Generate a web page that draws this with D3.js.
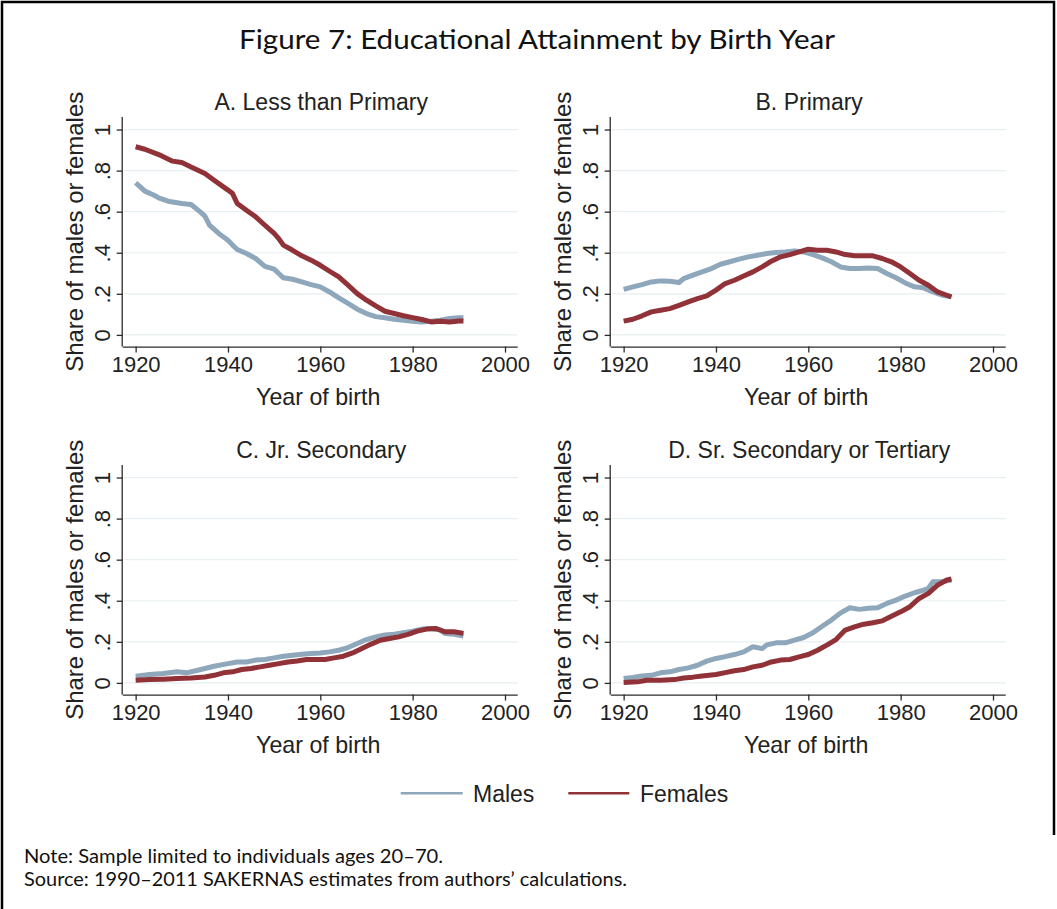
<!DOCTYPE html>
<html>
<head>
<meta charset="utf-8">
<script src="https://cdn.jsdelivr.net/npm/d3@7"></script>
<style>
  html, body { margin: 0; padding: 0; background: #fff; }
  svg { display: block; }
</style>
</head>
<body>
<svg id="chart" width="1057" height="909"></svg>
<script>
// ---------------- DATA ----------------
const figureTitle = "Figure 7: Educational Attainment by Birth Year";
const panelTitles = ["A. Less than Primary", "B. Primary", "C. Jr. Secondary", "D. Sr. Secondary or Tertiary"];
const seriesNames = ["Males", "Females"];
const xTicks = [1920, 1940, 1960, 1980, 2000];
const yTicks = [0, 0.2, 0.4, 0.6, 0.8, 1];
const yTickLabels = ["0", ".2", ".4", ".6", ".8", "1"];
const xTitle = "Year of birth";
const yTitle = "Share of males or females";
const notes = ["Note: Sample limited to individuals ages 20\u201370.",
               "Source: 1990\u20132011 SAKERNAS estimates from authors\u2019 calculations."];

// [birth year, share]
const lessPrimaryMales = [[1920,0.740],[1921,0.721],[1922,0.700],[1924,0.680],[1925,0.667],[1927,0.651],[1930,0.640],[1932,0.635],[1934,0.599],[1935,0.578],[1936,0.534],[1938,0.494],[1940,0.461],[1941,0.437],[1942,0.416],[1944,0.396],[1946,0.372],[1948,0.334],[1950,0.320],[1951,0.299],[1952,0.278],[1954,0.271],[1956,0.258],[1958,0.245],[1960,0.234],[1962,0.209],[1964,0.180],[1966,0.153],[1968,0.125],[1970,0.104],[1972,0.089],[1974,0.083],[1976,0.076],[1978,0.071],[1980,0.067],[1982,0.063],[1984,0.067],[1986,0.071],[1988,0.080],[1990,0.084],[1991,0.084]];
const lessPrimaryFemales = [[1920,0.916],[1922,0.904],[1925,0.878],[1928,0.846],[1930,0.839],[1932,0.818],[1935,0.786],[1937,0.753],[1940,0.705],[1941,0.688],[1942,0.640],[1944,0.607],[1946,0.575],[1948,0.534],[1950,0.494],[1951,0.469],[1952,0.437],[1954,0.412],[1956,0.385],[1958,0.364],[1960,0.339],[1962,0.310],[1964,0.282],[1966,0.242],[1968,0.201],[1970,0.169],[1972,0.141],[1974,0.115],[1976,0.104],[1978,0.093],[1980,0.084],[1982,0.075],[1984,0.063],[1986,0.067],[1988,0.063],[1990,0.068],[1991,0.068]];
const primaryMales = [[1920,0.222],[1922,0.234],[1924,0.245],[1926,0.258],[1928,0.263],[1930,0.261],[1932,0.255],[1933,0.274],[1935,0.291],[1937,0.307],[1939,0.323],[1941,0.344],[1943,0.356],[1945,0.369],[1947,0.380],[1949,0.388],[1951,0.396],[1953,0.401],[1955,0.404],[1957,0.409],[1959,0.404],[1961,0.391],[1963,0.375],[1965,0.356],[1967,0.331],[1969,0.323],[1971,0.323],[1973,0.326],[1975,0.323],[1977,0.299],[1979,0.278],[1981,0.253],[1983,0.234],[1985,0.229],[1987,0.209],[1989,0.193],[1991,0.185]];
const primaryFemales = [[1920,0.067],[1922,0.076],[1924,0.093],[1926,0.112],[1928,0.120],[1930,0.128],[1932,0.144],[1934,0.161],[1936,0.177],[1938,0.190],[1940,0.218],[1942,0.250],[1944,0.266],[1946,0.287],[1948,0.307],[1950,0.331],[1952,0.359],[1954,0.380],[1956,0.391],[1958,0.404],[1960,0.417],[1962,0.412],[1964,0.412],[1966,0.404],[1968,0.391],[1970,0.385],[1972,0.385],[1974,0.385],[1976,0.372],[1978,0.356],[1980,0.331],[1982,0.299],[1984,0.266],[1986,0.242],[1988,0.209],[1990,0.193],[1991,0.185]];
const jrSecondaryMales = [[1920,0.033],[1923,0.041],[1926,0.046],[1929,0.054],[1931,0.049],[1933,0.059],[1935,0.070],[1937,0.081],[1940,0.094],[1942,0.102],[1944,0.102],[1946,0.111],[1948,0.114],[1950,0.122],[1952,0.130],[1954,0.135],[1956,0.140],[1958,0.143],[1960,0.146],[1962,0.151],[1964,0.159],[1966,0.172],[1968,0.192],[1970,0.211],[1972,0.224],[1974,0.233],[1976,0.237],[1978,0.244],[1980,0.252],[1982,0.262],[1984,0.265],[1986,0.257],[1987,0.241],[1989,0.237],[1991,0.228]];
const jrSecondaryFemales = [[1920,0.013],[1923,0.016],[1926,0.018],[1929,0.021],[1932,0.024],[1935,0.029],[1937,0.037],[1939,0.049],[1941,0.054],[1943,0.065],[1945,0.070],[1947,0.078],[1949,0.086],[1951,0.094],[1953,0.102],[1955,0.107],[1957,0.114],[1959,0.114],[1961,0.114],[1963,0.122],[1965,0.130],[1967,0.146],[1969,0.167],[1971,0.189],[1973,0.208],[1975,0.216],[1977,0.224],[1979,0.236],[1981,0.252],[1983,0.262],[1985,0.265],[1987,0.249],[1989,0.249],[1991,0.241]];
const srSecondaryMales = [[1920,0.021],[1922,0.026],[1924,0.034],[1926,0.037],[1928,0.049],[1930,0.054],[1932,0.065],[1934,0.073],[1936,0.086],[1938,0.106],[1940,0.119],[1942,0.128],[1944,0.138],[1946,0.151],[1948,0.176],[1950,0.167],[1951,0.185],[1953,0.195],[1955,0.195],[1957,0.208],[1959,0.221],[1961,0.244],[1963,0.276],[1965,0.306],[1967,0.341],[1969,0.366],[1971,0.358],[1973,0.363],[1975,0.366],[1977,0.387],[1979,0.403],[1981,0.423],[1983,0.439],[1985,0.452],[1986,0.460],[1987,0.493],[1989,0.493],[1991,0.501]];
const srSecondaryFemales = [[1920,0.002],[1923,0.005],[1925,0.013],[1928,0.013],[1931,0.016],[1933,0.024],[1935,0.028],[1937,0.034],[1940,0.041],[1942,0.050],[1944,0.059],[1946,0.065],[1948,0.078],[1950,0.086],[1952,0.102],[1954,0.111],[1956,0.114],[1958,0.127],[1960,0.138],[1962,0.159],[1964,0.184],[1966,0.211],[1968,0.257],[1970,0.273],[1972,0.286],[1974,0.293],[1976,0.302],[1978,0.325],[1980,0.346],[1982,0.371],[1984,0.411],[1986,0.436],[1988,0.476],[1990,0.501],[1991,0.506]];

const panelMales = [lessPrimaryMales, primaryMales, jrSecondaryMales, srSecondaryMales];
const panelFemales = [lessPrimaryFemales, primaryFemales, jrSecondaryFemales, srSecondaryFemales];

// ---------------- STYLE / LAYOUT ----------------
const maleColor = "#8ea7bb";
const femaleColor = "#913238";
const gridColor = "#e7eff2";
const axisColor = "#2b2b2b";
const sansFont = "'Liberation Sans', Arial, Helvetica, sans-serif";
const titleFont = "Lato, 'Open Sans', sans-serif";

const plotLefts = [122.7, 610.7];
const plotTops = [117, 465];
const plotW = 395;
const plotH = 229.6;
const xDomain = [1917.2, 2002.75];
const yDomain = [-0.057, 1.061];

const svg = d3.select("#chart");

// outer frame
svg.append("path")
  .attr("d", "M2,909 L2,2 L1054,2 L1054,835")
  .attr("fill", "none").attr("stroke", "#000").attr("stroke-width", 2.5);

// figure title
svg.append("text")
  .attr("x", 239).attr("y", 49)
  .attr("textLength", 596).attr("lengthAdjust", "spacingAndGlyphs")
  .attr("font-family", titleFont).attr("font-size", 27.5).attr("fill", "#111")
  .text(figureTitle);

panelTitles.forEach((pt, i) => {
  const left = plotLefts[i % 2];
  const top = plotTops[Math.floor(i / 2)];
  const x = d3.scaleLinear().domain(xDomain).range([left, left + plotW]);
  const y = d3.scaleLinear().domain(yDomain).range([top + plotH, top]);
  const g = svg.append("g");

  // gridlines
  g.selectAll(".grid").data(yTicks).join("line")
    .attr("x1", left + 1).attr("x2", left + plotW)
    .attr("y1", d => y(d)).attr("y2", d => y(d))
    .attr("stroke", gridColor).attr("stroke-width", 1.2);

  // x axis
  const xAxis = d3.axisBottom(x).tickValues(xTicks).tickFormat(d3.format("d")).tickSize(6).tickSizeOuter(0);
  const xg = g.append("g").attr("transform", `translate(0,${top + plotH})`).call(xAxis);
  xg.select(".domain").attr("stroke", axisColor).attr("stroke-width", 1.3)
    .attr("d", `M${left},0.5H${left + plotW}`);
  xg.selectAll(".tick line").attr("stroke", axisColor).attr("stroke-width", 1.3);
  xg.selectAll(".tick text").attr("font-family", sansFont).attr("font-size", 22)
    .attr("fill", "#222").attr("dy", null).attr("y", 25.5);

  // y axis
  const yAxis = d3.axisLeft(y).tickValues(yTicks).tickFormat((d, k) => yTickLabels[k]).tickSize(6).tickSizeOuter(0);
  const yg = g.append("g").attr("transform", `translate(${left},0)`).call(yAxis);
  yg.select(".domain").attr("stroke", axisColor).attr("stroke-width", 1.3)
    .attr("d", `M-0.5,${top}V${top + plotH}`);
  yg.selectAll(".tick line").attr("stroke", axisColor).attr("stroke-width", 1.3);
  yg.selectAll(".tick text").attr("font-family", sansFont).attr("font-size", 22)
    .attr("fill", "#222").attr("x", null).attr("dy", null)
    .attr("text-anchor", "middle")
    .attr("transform", "translate(-12.5,0) rotate(-90)");

  // axis titles
  g.append("text")
    .attr("x", left + plotW / 2 - 2).attr("y", top + plotH + 58.5)
    .attr("text-anchor", "middle").attr("font-family", sansFont).attr("font-size", 23.2).attr("fill", "#222")
    .text(xTitle);
  g.append("text")
    .attr("transform", `translate(${left - 39.5},${top + plotH / 2}) rotate(-90)`)
    .attr("text-anchor", "middle").attr("font-family", sansFont).attr("font-size", 24).attr("fill", "#222")
    .text(yTitle);

  // panel title
  g.append("text")
    .attr("x", left + plotW / 2 + 1).attr("y", top - 7)
    .attr("text-anchor", "middle").attr("font-family", sansFont).attr("font-size", 23).attr("fill", "#222")
    .text(pt);

  const line = d3.line().x(d => x(d[0])).y(d => y(d[1]));
  g.append("path").datum(panelMales[i]).attr("d", line)
    .attr("fill", "none").attr("stroke", maleColor).attr("stroke-width", 5)
    .attr("stroke-linejoin", "round").attr("stroke-linecap", "butt");
  g.append("path").datum(panelFemales[i]).attr("d", line)
    .attr("fill", "none").attr("stroke", femaleColor).attr("stroke-width", 5)
    .attr("stroke-linejoin", "round").attr("stroke-linecap", "butt");
});

// legend
const legendItems = [
  { name: seriesNames[0], color: maleColor, x1: 400.7, x2: 462.7, tx: 473 },
  { name: seriesNames[1], color: femaleColor, x1: 568.3, x2: 629.3, tx: 640 }
];
const lg = svg.append("g");
legendItems.forEach(it => {
  lg.append("line").attr("x1", it.x1).attr("x2", it.x2).attr("y1", 793.3).attr("y2", 793.3)
    .attr("stroke", it.color).attr("stroke-width", 2.5);
  lg.append("text").attr("x", it.tx).attr("y", 801.5)
    .attr("font-family", sansFont).attr("font-size", 23).attr("fill", "#222").text(it.name);
});

// notes
svg.append("text").attr("x", 24).attr("y", 863)
  .attr("textLength", 419).attr("lengthAdjust", "spacingAndGlyphs")
  .attr("font-family", titleFont).attr("font-size", 19.5).attr("fill", "#111").text(notes[0]);
svg.append("text").attr("x", 24).attr("y", 886)
  .attr("textLength", 603).attr("lengthAdjust", "spacingAndGlyphs")
  .attr("font-family", titleFont).attr("font-size", 19.5).attr("fill", "#111").text(notes[1]);
</script>
</body>
</html>
